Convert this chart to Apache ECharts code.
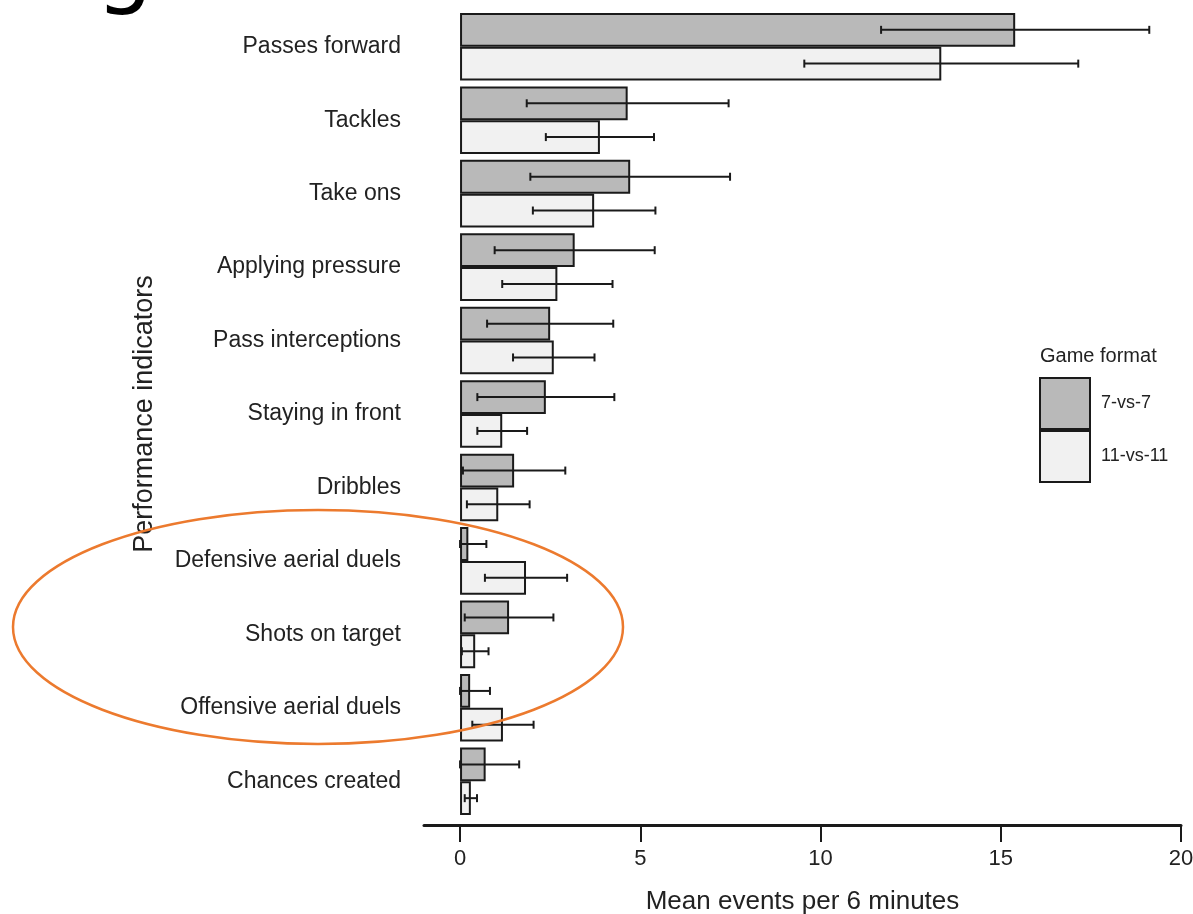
<!DOCTYPE html>
<html>
<head>
<meta charset="utf-8">
<script src="https://cdn.jsdelivr.net/npm/echarts@6/dist/echarts.min.js"></script>
<style>
html,body{margin:0;padding:0;background:#fff;}
#chart{width:1193px;height:914px;}
</style>
</head>
<body>
<div id="chart"></div>
<script>
const categories = ['Passes forward','Tackles','Take ons','Applying pressure','Pass interceptions','Staying in front','Dribbles','Defensive aerial duels','Shots on target','Offensive aerial duels','Chances created'];
const seriesNames = ['7-vs-7','11-vs-11'];
const mean7 = [15.4, 4.65, 4.72, 3.18, 2.5, 2.38, 1.5, 0.23, 1.36, 0.28, 0.71];
const sd7   = [3.72, 2.8, 2.77, 2.22, 1.75, 1.9, 1.42, 0.5, 1.23, 0.55, 0.93];
const mean11 = [13.35, 3.88, 3.72, 2.7, 2.6, 1.17, 1.06, 1.83, 0.42, 1.19, 0.3];
const sd11   = [3.8, 1.5, 1.7, 1.53, 1.13, 0.69, 0.87, 1.14, 0.37, 0.85, 0.17];
const xTicks = [0, 5, 10, 15, 20];

const chart = echarts.init(document.getElementById('chart'));
const FONT = 'Liberation Sans';
const GAP = 0.08;                 // category gap share
const BAND_FRAC = (1 - GAP) / 2;  // each bar's share of band

function errData(means, sds) {
  return means.map((m, i) => [Math.max(0, m - sds[i]), m + sds[i], i]);
}
function errRender(sign) {
  return function (params, api) {
    const lo = api.coord([api.value(0), api.value(2)]);
    const hi = api.coord([api.value(1), api.value(2)]);
    const band = api.size([0, 1])[1];
    const y = lo[1] + sign * band * BAND_FRAC / 2;
    const cap = 4;
    const st = { stroke: '#1a1a1a', lineWidth: 2 };
    return {
      type: 'group',
      children: [
        { type: 'line', shape: { x1: lo[0], y1: y, x2: hi[0], y2: y }, style: st },
        { type: 'line', shape: { x1: lo[0], y1: y - cap, x2: lo[0], y2: y + cap }, style: st },
        { type: 'line', shape: { x1: hi[0], y1: y - cap, x2: hi[0], y2: y + cap }, style: st }
      ]
    };
  };
}

const option = {
  backgroundColor: '#ffffff',
  animation: false,
  textStyle: { fontFamily: FONT },
  grid: { left: 424, right: 12, top: 10, bottom: 96, containLabel: false, outerBoundsMode: 'none' },
  title: {
    text: 'Game format', left: 1035, top: 341,
    textStyle: { fontFamily: FONT, fontSize: 20, fontWeight: 'normal', color: '#222' }
  },
  legend: {
    data: seriesNames, orient: 'vertical', left: 1034, top: 372,
    itemWidth: 50, itemHeight: 51, itemGap: 0, icon: 'rect',
    textStyle: { fontFamily: FONT, fontSize: 18, color: '#222', padding: [0, 0, 0, 6] }
  },
  xAxis: {
    type: 'value', min: -1, max: 20, offset: 7,
    name: 'Mean events per 6 minutes', nameLocation: 'middle', nameGap: 64,
    nameTextStyle: { fontFamily: FONT, fontSize: 26, color: '#222' },
    axisLine: { show: true, lineStyle: { color: '#1a1a1a', width: 3 } },
    axisTick: { show: true, customValues: xTicks, length: 17, lineStyle: { color: '#1a1a1a', width: 2 } },
    axisLabel: { customValues: xTicks, fontFamily: FONT, fontSize: 22, color: '#222', margin: 23 },
    splitLine: { show: false }
  },
  yAxis: {
    type: 'category', data: categories, inverse: true,
    name: 'Performance indicators', nameLocation: 'middle', nameGap: 266, nameRotate: 90,
    nameTextStyle: { fontFamily: FONT, fontSize: 27, color: '#222' },
    axisLine: { show: false }, axisTick: { show: false },
    axisLabel: { fontFamily: FONT, fontSize: 23, color: '#222', margin: 23 }
  },
  series: [
    {
      name: seriesNames[0], type: 'bar', data: mean7, barGap: '0%', barCategoryGap: (GAP * 100) + '%',
      itemStyle: { color: '#b9b9b9', borderColor: '#1a1a1a', borderWidth: 2 }
    },
    {
      name: seriesNames[1], type: 'bar', data: mean11, barGap: '0%', barCategoryGap: (GAP * 100) + '%',
      itemStyle: { color: '#f1f1f1', borderColor: '#1a1a1a', borderWidth: 2 }
    },
    {
      type: 'custom', name: 'err7', renderItem: errRender(-1), data: errData(mean7, sd7),
      encode: { x: [0, 1], y: 2 }, z: 10, silent: true
    },
    {
      type: 'custom', name: 'err11', renderItem: errRender(1), data: errData(mean11, sd11),
      encode: { x: [0, 1], y: 2 }, z: 10, silent: true
    }
  ],
  graphic: [
    {
      type: 'text', left: 96, top: -72, silent: true,
      style: { text: 'g', fontFamily: 'DejaVu Sans', fontSize: 90, fill: '#000' }
    },
    {
      type: 'ellipse', silent: true, z: 100,
      shape: { cx: 318, cy: 627, rx: 305, ry: 117 },
      style: { fill: 'none', stroke: '#ec7a2e', lineWidth: 2.5 }
    }
  ]
};
chart.setOption(option);
</script>
</body>
</html>
